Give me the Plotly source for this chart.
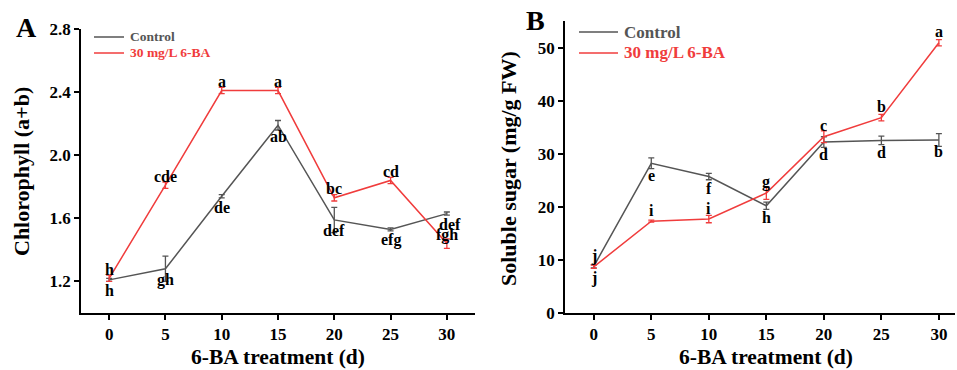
import plotly.graph_objects as go

days = [0, 5, 10, 15, 20, 25, 30]

# Panel A: chlorophyll (a+b)
chl_ctrl = [1.21, 1.28, 1.74, 2.19, 1.59, 1.53, 1.63]
chl_ctrl_err = [0.01, 0.08, 0.01, 0.03, 0.08, 0.01, 0.01]
chl_ba = [1.22, 1.81, 2.41, 2.41, 1.73, 1.84, 1.44]
chl_ba_err = [0.02, 0.02, 0.02, 0.02, 0.02, 0.02, 0.03]
chl_ctrl_lbl = ["h", "gh", "de", "ab", "def", "efg", "def"]
chl_ba_lbl = ["h", "cde", "a", "a", "bc", "cd", "fgh"]

# Panel B: soluble sugar
sug_ctrl = [8.8, 28.2, 25.7, 20.2, 32.2, 32.5, 32.6]
sug_ctrl_err = [0.3, 1.0, 0.6, 0.7, 1.0, 0.8, 1.2]
sug_ba = [8.7, 17.3, 17.7, 22.6, 33.2, 36.8, 50.9]
sug_ba_err = [0.3, 0.2, 0.7, 1.2, 1.1, 0.6, 0.6]
sug_ctrl_lbl = ["j", "e", "f", "h", "d", "d", "b"]
sug_ba_lbl = ["j", "i", "i", "g", "c", "b", "a"]

series_names = ["Control", "30 mg/L 6-BA"]

GRAY = "#555555"
RED = "#f03c3c"
FONT = "Liberation Serif, Times New Roman, serif"
W, H = 957, 370

fig = go.Figure()

def add(x, y, err, color, name, xa, ya):
    fig.add_trace(go.Scatter(
        x=x, y=y, mode="lines", name=name,
        line=dict(color=color, width=1.5),
        error_y=dict(type="data", array=err, color=color, thickness=1.3, width=3),
        xaxis=xa, yaxis=ya, showlegend=False))

add(days, chl_ctrl, chl_ctrl_err, GRAY, series_names[0], "x", "y")
add(days, chl_ba, chl_ba_err, RED, series_names[1], "x", "y")
add(days, sug_ctrl, sug_ctrl_err, GRAY, series_names[0], "x2", "y2")
add(days, sug_ba, sug_ba_err, RED, series_names[1], "x2", "y2")

def bf(size, color="black"):
    return dict(family=FONT, size=size, color=color, weight="bold")

ann = []
def labels(x, y, lbls, shift, xr, yr, xshift_last=0):
    for i, (xi, yi, t) in enumerate(zip(x, y, lbls)):
        ann.append(dict(x=xi, y=yi, xref=xr, yref=yr, text=t, showarrow=False,
                        yshift=shift, xshift=(xshift_last if i == len(x) - 1 else 0),
                        font=bf(16)))

labels(days, chl_ctrl, chl_ctrl_lbl, -11, "x", "y", 3)
labels(days, chl_ba, chl_ba_lbl, 9, "x", "y")
labels(days, sug_ctrl, sug_ctrl_lbl, -12, "x2", "y2")
labels(days, sug_ba, sug_ba_lbl, 11, "x2", "y2")

def px(xp):
    return xp / W
def py(yp):
    return 1 - yp / H

# panel letters and axis titles
ann += [
    dict(x=px(26), y=py(27), xref="paper", yref="paper", text="A", showarrow=False,
         xanchor="center", yanchor="middle", font=bf(28)),
    dict(x=px(535), y=py(20), xref="paper", yref="paper", text="B", showarrow=False,
         xanchor="center", yanchor="middle", font=bf(28)),
    dict(x=px(21), y=py(172), xref="paper", yref="paper", text="Chlorophyll (a+b)",
         xanchor="center", yanchor="middle", showarrow=False, textangle=-90, font=bf(22)),
    dict(x=px(508), y=py(168), xref="paper", yref="paper", text="Soluble sugar (mg/g FW)",
         xanchor="center", yanchor="middle", showarrow=False, textangle=-90, font=bf(22)),
    dict(x=px(278), y=0, xref="paper", yref="paper", text="6-BA treatment (d)", borderpad=0,
         xanchor="center", yanchor="bottom", showarrow=False, font=bf(21.5)),
    dict(x=px(766), y=0, xref="paper", yref="paper", text="6-BA treatment (d)", borderpad=0,
         xanchor="center", yanchor="bottom", showarrow=False, font=bf(21.5)),
]

# manual legends (line sample + coloured text)
shapes = []
def legend(x0, x1, ys, size):
    for name, color, yy in zip(series_names, [GRAY, RED], ys):
        shapes.append(dict(type="line", xref="paper", yref="paper", x0=px(x0), x1=px(x1),
                           y0=py(yy), y1=py(yy), line=dict(color=color, width=1.5)))
        ann.append(dict(x=px(x1 + 4), y=py(yy), xref="paper", yref="paper", text=name,
                        showarrow=False, xanchor="left", yanchor="middle", font=bf(size, color)))

legend(94, 124, [37, 53], 13.5)
legend(579, 618, [32, 53], 17)

axis_common = dict(showline=True, linecolor="black", linewidth=1.5, ticks="outside",
                   ticklen=5, tickwidth=1.5, tickcolor="black", showgrid=False, zeroline=False,
                   automargin=False, tickfont=bf(17))

fig.update_layout(
    width=W, height=H, margin=dict(l=0, r=0, t=0, b=0, autoexpand=False),
    paper_bgcolor="white", plot_bgcolor="white",
    xaxis=dict(domain=[px(81), px(475)], range=[-2.5, 32.5], tickvals=days, anchor="y",
               **axis_common),
    yaxis=dict(domain=[py(313), py(29)], range=[1.0, 2.8], tickvals=[1.2, 1.6, 2.0, 2.4, 2.8],
               tickformat=".1f", anchor="x", **axis_common),
    xaxis2=dict(domain=[px(565), px(955)], range=[-2.5, 31.4], tickvals=days, anchor="y2",
                **axis_common),
    yaxis2=dict(domain=[py(313), py(21)], range=[0, 55], tickvals=[0, 10, 20, 30, 40, 50],
                anchor="x2", **axis_common),
    annotations=ann,
    shapes=shapes,
    showlegend=False,
)

fig.write_html("out.html")
